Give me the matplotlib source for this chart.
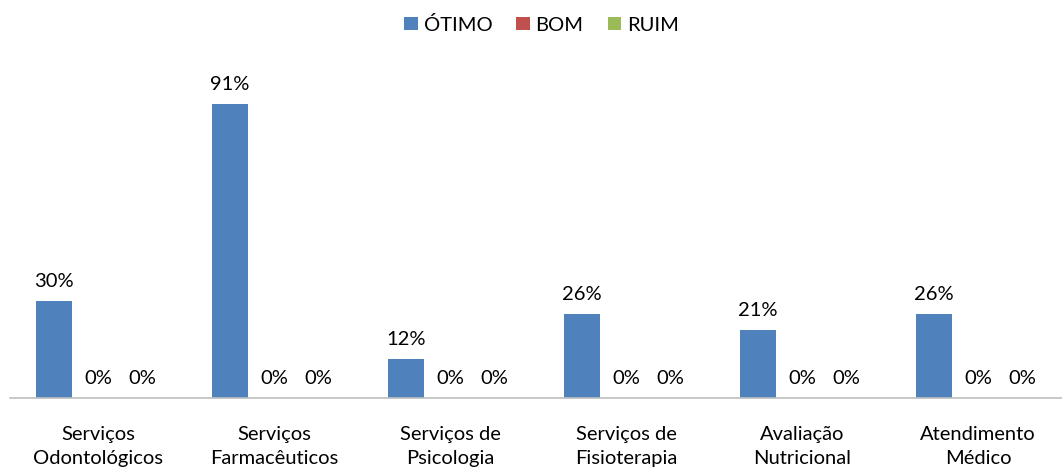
import numpy as np
import matplotlib
matplotlib.use("Agg")
import matplotlib.pyplot as plt

plt.rcParams['font.family'] = ['Lato', 'DejaVu Sans']

categorias = ["Serviços\nOdontológicos", "Serviços\nFarmacêuticos", "Serviços de\nPsicologia",
              "Serviços de\nFisioterapia", "Avaliação\nNutricional", "Atendimento\nMédico"]
otimo = [30, 91, 12, 26, 21, 26]
bom = [0, 0, 0, 0, 0, 0]
ruim = [0, 0, 0, 0, 0, 0]

series = [("ÓTIMO", otimo, "#4F81BD"), ("BOM", bom, "#C0504D"), ("RUIM", ruim, "#9BBB59")]

W, H = 1062, 473
fig = plt.figure(figsize=(W / 100, H / 100), dpi=100)
ax = fig.add_axes([10 / W, 75 / H, 1056 / W, 323 / H])

x = np.arange(len(categorias))
passo = 0.25
largura = 0.205
for i, (nome, vals, cor) in enumerate(series):
    pos = x + (i - 1) * passo
    barras = ax.bar(pos, vals, width=largura, color=cor, label=nome)
    for b, v in zip(barras, vals):
        ax.annotate(f"{v}%", (b.get_x() + b.get_width() / 2, v),
                    xytext=(0, 8), textcoords="offset points",
                    ha="center", va="bottom", fontsize=14.5, color="#000000")

ax.set_xlim(-0.5, 5.5)
ax.set_ylim(0, 100)
ax.set_yticks([])
ax.set_xticks(x)
ax.set_xticklabels(categorias, fontsize=14.5, linespacing=1.55)
ax.tick_params(axis="x", length=0, pad=20)
for s in ["top", "right", "left"]:
    ax.spines[s].set_visible(False)
ax.spines["bottom"].set_color("#BFBFBF")
ax.spines["bottom"].set_linewidth(1.2)

fig.legend(loc="upper center", bbox_to_anchor=(0.51, 1.005), ncol=3, frameon=False,
           fontsize=14.5, handlelength=0.65, handleheight=0.65, handletextpad=0.3,
           columnspacing=1.2)

fig.savefig("out.png", dpi=100)
